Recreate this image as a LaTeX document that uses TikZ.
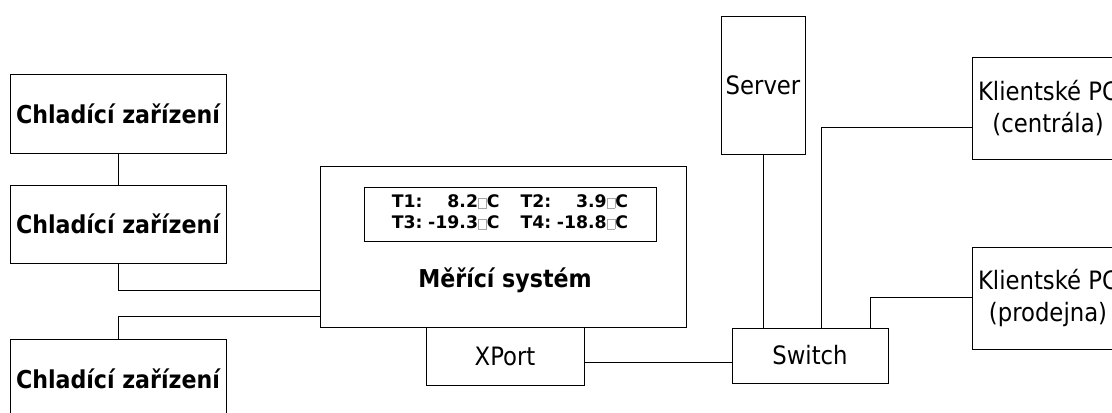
\documentclass[tikz,border=0pt]{standalone}
\usepackage{fontspec}
\setmainfont{DejaVu Sans Condensed}
\newfontfamily\dispfont{DejaVu Sans}
\usepackage{tikz}

% small box in place of the degree sign
\newcommand{\degbox}{{\color{black!35}\setlength{\fboxsep}{0pt}\setlength{\fboxrule}{0.4pt}\fbox{\rule{0pt}{0.95ex}\hspace{0.8ex}}}}

\tikzset{
    box/.style={draw, black, line width=0.7pt, inner sep=0pt, align=center},
    wire/.style={black, line width=0.7pt},
    boldtext/.style={font=\fontsize{17.5}{21}\selectfont\bfseries},
    plaintext/.style={font=\fontsize{18}{23}\selectfont},
}

\begin{document}
\begin{tikzpicture}
        \useasboundingbox(0, 0) rectangle (27.8, 10.3);
        \clip(0, 0) rectangle (27.8, 10.3);
        % chladici zarizeni
        \node[box, boldtext, minimum width=5.4cm, minimum height=1.975cm](chl1)at(2.95, 7.4625){Chladící zařízení};
        \node[box, boldtext, minimum width=5.4cm, minimum height=1.95cm](chl2)at(2.95, 4.7){Chladící zařízení};
        \node[box, boldtext, minimum width=5.4cm, minimum height=1.975cm](chl3)at(2.95, 0.8375){Chladící zařízení};
        % merici system
        \node[box, minimum width=9.15cm, minimum height=4.025cm](mer)at(12.575, 4.1375){};
        \node[box, minimum width=7.3cm, minimum height=1.35cm, font=\dispfont\fontsize{12.3}{15}\selectfont\bfseries](disp)at(12.75, 4.95){%
            \begin{tabular}{@{}l@{\hspace{4pt}}r@{\hspace{15pt}}l@{\hspace{4pt}}r@{}}
            T1: & 8.2\degbox C & T2: & 3.9\degbox C\\
            T3: & -19.3\degbox C & T4: & -18.8\degbox C
            \end{tabular}};
        \node[boldtext](mertext)at(12.625, 3.3){Měřící systém};
        \node[box, plaintext, minimum width=3.95cm, minimum height=1.45cm](xport)at(12.625, 1.4){XPort};
        % sit
        \node[box, plaintext, minimum width=3.9cm, minimum height=1.375cm](switch)at(20.25, 1.4125){Switch};
        \node[box, plaintext, minimum width=2.1cm, minimum height=3.45cm](server)at(19.075, 8.175){Server};
        \node[box, plaintext, minimum width=3.8cm, minimum height=2.55cm](kl1)at(26.2, 7.6){Klientské PC\\(centrála)};
        \node[box, plaintext, minimum width=3.8cm, minimum height=2.55cm](kl2)at(26.2, 2.85){Klientské PC\\(prodejna)};
        \coordinate(m1)at(8, 3.05);
        \coordinate(m2)at(8, 2.4);
        \coordinate(m3)at(16, 1.25);
        \coordinate(k1)at(20.525, 7.125);
        \coordinate(k2)at(21.75, 2.875);
        \draw[wire](chl1)--(chl2);
        \draw[wire](chl2.south)|-(mer.west |- m1);
        \draw[wire](mer.west |- m2)-|(chl3.north);
        \draw[wire](xport.east |- m3)--(switch.west |- m3);
        \draw[wire](server.south)--(server.south |- switch.north);
        \draw[wire](switch.north -| k1)|-(kl1.west |- k1);
        \draw[wire](switch.north -| k2)|-(kl2.west |- k2);
    \end{tikzpicture}
\end{document}
